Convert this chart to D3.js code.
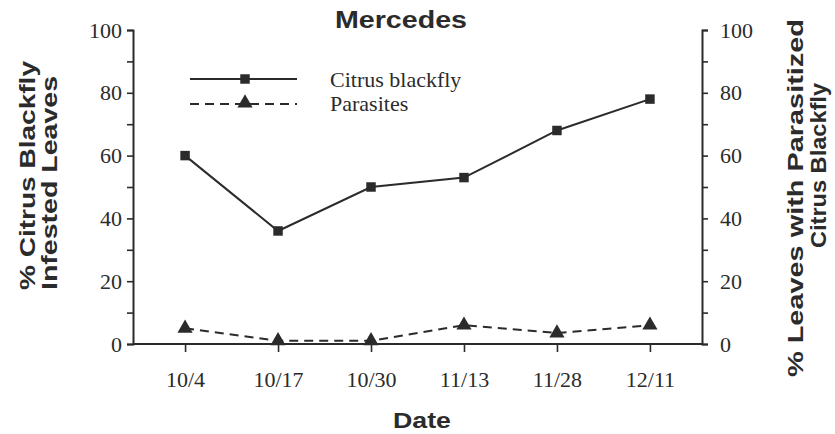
<!DOCTYPE html>
<html><head><meta charset="utf-8">
<script src="https://cdn.jsdelivr.net/npm/d3@7"></script>
<style>body{margin:0;background:#fff}svg{display:block}</style>
</head><body><svg id="c" width="835" height="434"></svg>
<script>
const dates = ["10/4","10/17","10/30","11/13","11/28","12/11"];
const blackfly = [60, 36, 50, 53, 68, 78];
const parasites = [5, 1, 1, 6, 3.5, 6];
const yTicks = [0,10,20,30,40,50,60,70,80,90,100];

const svg = d3.select("#c");
const L = 133, R = 702, T = 30, B = 344;
const ink = "#2b2b2b";
const x = d3.scalePoint().domain(dates).range([L, R]).padding(0.56);
const y = d3.scaleLinear().domain([0,100]).range([B, T]);
const serif = "'Liberation Serif','Times New Roman',serif";
const sans = "'Liberation Sans',Arial,sans-serif";

function styleAxis(g){
  g.select(".domain").attr("stroke", ink).attr("stroke-width", 2);
  g.selectAll(".tick line").attr("stroke", ink).attr("stroke-width", 1.6);
  g.selectAll(".tick text").attr("font-family", serif).attr("font-size", 22).attr("fill", ink);
}
const fmt = d => d % 20 === 0 ? d : "";
const gl = svg.append("g").attr("transform", `translate(${L},0)`)
  .call(d3.axisLeft(y).tickValues(yTicks).tickFormat(fmt).tickSize(6).tickSizeOuter(6).tickPadding(5));
styleAxis(gl);
const gr = svg.append("g").attr("transform", `translate(${R},0)`)
  .call(d3.axisRight(y).tickValues(yTicks).tickFormat(fmt).tickSize(6).tickSizeOuter(6).tickPadding(12));
styleAxis(gr);
const gx = svg.append("g").attr("transform", `translate(0,${B})`)
  .call(d3.axisBottom(x).tickSize(8).tickSizeOuter(0).tickPadding(19));
gx.select(".domain").attr("d", `M${L},0H${R}`);
styleAxis(gx);

// lines
const line = d3.line().x((d,i)=>x(dates[i])).y(d=>y(d));
svg.append("path").datum(blackfly).attr("d", line).attr("fill","none")
  .attr("stroke", ink).attr("stroke-width", 2);
svg.append("path").datum(parasites).attr("d", line).attr("fill","none")
  .attr("stroke", ink).attr("stroke-width", 2).attr("stroke-dasharray","9,6");
const sq = d3.symbol().type(d3.symbolSquare).size(90);
const tri = d3.symbol().type(d3.symbolTriangle).size(100);
svg.selectAll(".sq").data(blackfly).join("path")
  .attr("transform",(d,i)=>`translate(${x(dates[i])},${y(d)})`).attr("d", sq()).attr("fill", ink);
svg.selectAll(".tri").data(parasites).join("path")
  .attr("transform",(d,i)=>`translate(${x(dates[i])},${y(d)})`).attr("d", tri()).attr("fill", ink);

// legend
const lg = svg.append("g");
lg.append("line").attr("x1",190).attr("x2",297).attr("y1",79).attr("y2",79).attr("stroke",ink).attr("stroke-width",2);
lg.append("path").attr("transform","translate(245,79)").attr("d", sq()).attr("fill", ink);
lg.append("line").attr("x1",190).attr("x2",297).attr("y1",104).attr("y2",104).attr("stroke",ink).attr("stroke-width",2).attr("stroke-dasharray","9,6");
lg.append("path").attr("transform","translate(245,103)").attr("d", tri()).attr("fill", ink);
lg.append("text").attr("x",330).attr("y",87).text("Citrus blackfly").attr("font-family",serif).attr("font-size",22).attr("fill",ink);
lg.append("text").attr("x",330).attr("y",111).text("Parasites").attr("font-family",serif).attr("font-size",22).attr("fill",ink);

// titles
function bold(sel, txt, len){
  return sel.append("text").text(txt).attr("font-family",sans).attr("font-weight","bold")
    .attr("fill",ink).attr("textLength",len).attr("lengthAdjust","spacingAndGlyphs");
}
bold(svg,"Mercedes",132).attr("x",335).attr("y",28).attr("font-size",23);
bold(svg,"Date",58).attr("x",393).attr("y",428).attr("font-size",22);
// left axis title (rotated, start at bottom)
bold(svg,"% Citrus Blackfly",229).attr("font-size",22)
  .attr("transform","translate(35,290) rotate(-90)");
bold(svg,"Infested Leaves",214).attr("font-size",22)
  .attr("transform","translate(57,290) rotate(-90)");
// right axis title
bold(svg,"% Leaves with Parasitized",358).attr("font-size",22)
  .attr("transform","translate(803,377) rotate(-90)");
bold(svg,"Citrus Blackfly",165).attr("font-size",22)
  .attr("transform","translate(826,248) rotate(-90)");
</script></body></html>
